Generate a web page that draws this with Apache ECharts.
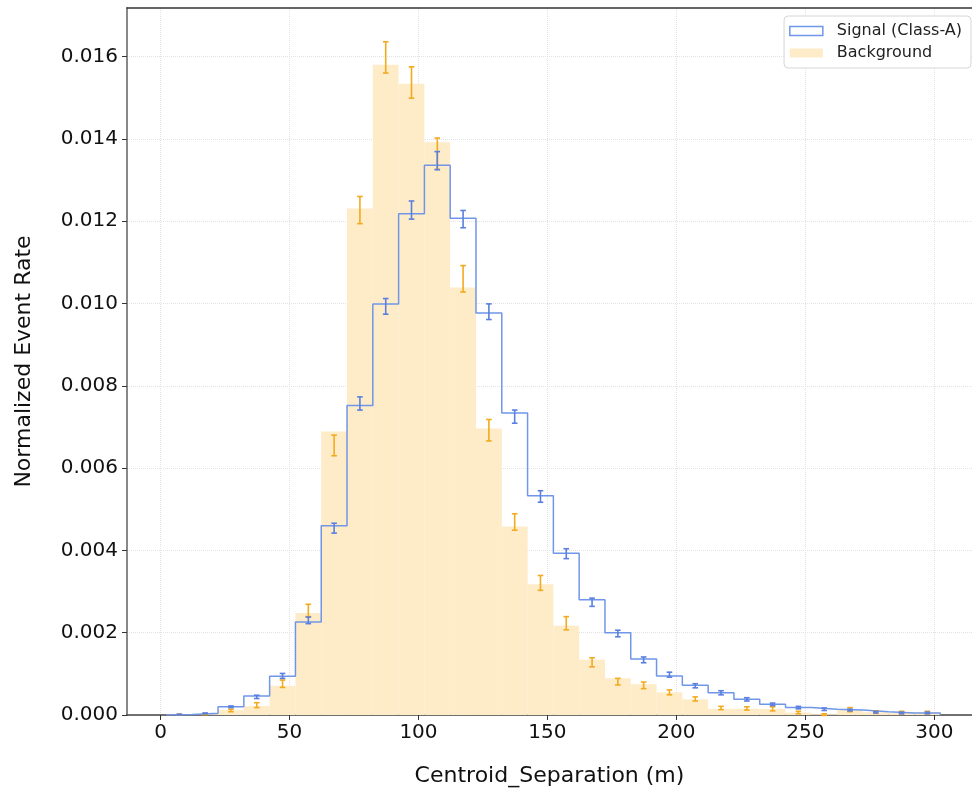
<!DOCTYPE html>
<html>
<head>
<meta charset="utf-8">
<script src="https://cdn.jsdelivr.net/npm/echarts@6/dist/echarts.min.js"></script>
<style>
  html, body { margin: 0; padding: 0; background: #fff; }
  #main { width: 972px; height: 792px; }
</style>
</head>
<body>
<div id="main"></div>
<script>
// bin edges (m)
const binEdges = [2.3, 12.3, 22.3, 32.3, 42.3, 52.3, 62.3, 72.3, 82.3, 92.3, 102.3,
  112.3, 122.3, 132.3, 142.3, 152.3, 162.3, 172.3, 182.3, 192.3, 202.3,
  212.3, 222.3, 232.3, 242.3, 252.3, 262.3, 272.3, 282.3, 292.3, 302.3];

// signal histogram (step) and its error bars
const signalRate = [0.00001, 0.00004, 0.00020, 0.00046, 0.00094, 0.00226, 0.00460, 0.00752, 0.00999, 0.01218,
  0.01336, 0.01207, 0.00977, 0.00734, 0.00533, 0.00393, 0.00280, 0.00200, 0.00136, 0.00095,
  0.00072, 0.00054, 0.00038, 0.00026, 0.00018, 0.00014, 0.00012, 0.00008, 0.00005, 0.00005];
const signalErrMid = [0.00001, 0.00004, 0.00020, 0.00044, 0.00095, 0.00230, 0.00454, 0.00757, 0.00993, 0.01227,
  0.01347, 0.01205, 0.00980, 0.00725, 0.00531, 0.00392, 0.00274, 0.00198, 0.00134, 0.00098,
  0.00071, 0.00054, 0.00038, 0.00026, 0.00018, 0.00014, 0.00012, 0.00007, 0.00005, 0.00005];
const signalErr = [0.00001, 0.00001, 0.00002, 0.00004, 0.00006, 0.00008, 0.00012, 0.00016, 0.00019, 0.00022,
  0.00022, 0.00021, 0.00019, 0.00016, 0.00014, 0.00012, 0.00010, 0.00008, 0.00007, 0.00006,
  0.00005, 0.00005, 0.00004, 0.00003, 0.00003, 0.00003, 0.00002, 0.00002, 0.00002, 0.00002];

// background histogram (filled) and its error bars
const backgroundRate = [0.00001, 0.00002, 0.00012, 0.00022, 0.00071, 0.00248, 0.00689, 0.01231, 0.01580, 0.01534,
  0.01392, 0.01039, 0.00696, 0.00458, 0.00318, 0.00217, 0.00134, 0.00089, 0.00075, 0.00055,
  0.00038, 0.00015, 0.00015, 0.00015, 0.00006, 0.00002, 0.00012, 0.00007, 0.00006, 0.00006];
const backgroundErrMid = [0.00001, 0.00002, 0.00011, 0.00024, 0.00076, 0.00254, 0.00655, 0.01227, 0.01598, 0.01537,
  0.01364, 0.01060, 0.00692, 0.00469, 0.00321, 0.00223, 0.00128, 0.00081, 0.00072, 0.00055,
  0.00039, 0.00017, 0.00016, 0.00015, 0.00006, 0.00001, 0.00013, 0.00007, 0.00006, 0.00006];
const backgroundErr = [0.00001, 0.00001, 0.00003, 0.00006, 0.00009, 0.00015, 0.00025, 0.00033, 0.00038, 0.00038,
  0.00038, 0.00032, 0.00026, 0.00020, 0.00018, 0.00016, 0.00011, 0.00008, 0.00008, 0.00006,
  0.00005, 0.00004, 0.00004, 0.00005, 0.00003, 0.00002, 0.00005, 0.00003, 0.00003, 0.00003];

const xTicks = [0, 50, 100, 150, 200, 250, 300];
const yTicks = [0, 0.002, 0.004, 0.006, 0.008, 0.010, 0.012, 0.014, 0.016];

const FONT = "DejaVu Sans";
const BLUE = "#6f96e8";
const BLUE_ERR = "#5a7fdf";
const ORANGE_ERR = "#f2ab1f";
const BG_FILL = "#feebc8";

const myChart = echarts.init(document.getElementById("main"));

// data for the series
const barData = backgroundRate.map((v, i) => [binEdges[i], binEdges[i + 1], v]);
const stepData = [[binEdges[0], 0]];
signalRate.forEach((v, i) => {
  stepData.push([binEdges[i], v]);
  stepData.push([binEdges[i + 1], v]);
});
stepData.push([binEdges[binEdges.length - 1], 0]);

const centre = (i) => (binEdges[i] + binEdges[i + 1]) / 2;
const sigErrData = signalErrMid.map((m, i) => [centre(i), m - signalErr[i], m + signalErr[i]]);
const bgErrData = backgroundErrMid.map((m, i) => [centre(i), m - backgroundErr[i], m + backgroundErr[i]]);

function renderBar(params, api) {
  const a = api.coord([api.value(0), api.value(2)]);
  const b = api.coord([api.value(1), 0]);
  return {
    type: "rect",
    shape: { x: a[0], y: a[1], width: b[0] - a[0], height: b[1] - a[1] },
    style: { fill: BG_FILL },
  };
}

function errRenderer(color) {
  return function (params, api) {
    const top = api.coord([api.value(0), api.value(2)]);
    const bot = api.coord([api.value(0), api.value(1)]);
    const cap = 2.8;
    const style = { stroke: color, lineWidth: 1.6 };
    return {
      type: "group",
      children: [
        { type: "line", shape: { x1: top[0], y1: top[1], x2: bot[0], y2: bot[1] }, style: style },
        { type: "line", shape: { x1: top[0] - cap, y1: top[1], x2: top[0] + cap, y2: top[1] }, style: style },
        { type: "line", shape: { x1: bot[0] - cap, y1: bot[1], x2: bot[0] + cap, y2: bot[1] }, style: style },
      ],
    };
  };
}

const option = {
  animation: false,
  textStyle: { fontFamily: FONT },
  grid: { left: 127, right: 0, top: 8, bottom: 74 },
  legend: {
    orient: "vertical",
    right: 1,
    top: 16,
    padding: [7, 9, 7, 5],
    itemGap: 6,
    itemWidth: 33,
    itemHeight: 9,
    backgroundColor: "#fff",
    borderColor: "#d6d6d6",
    borderWidth: 1,
    borderRadius: 4,
    selectedMode: false,
    textStyle: { fontFamily: FONT, fontSize: 16, color: "#222", padding: [0, 0, 0, 9] },
    data: [
      { name: "Signal (Class-A)", icon: "rect", itemStyle: { color: "#fff", borderColor: BLUE, borderWidth: 1.5 } },
      { name: "Background", icon: "rect", itemStyle: { color: BG_FILL } },
    ],
  },
  xAxis: [
    {
      type: "value",
      min: -13.0,
      max: 314.6,
      name: "Centroid_Separation (m)",
      nameLocation: "middle",
      nameGap: 50,
      nameTextStyle: { fontFamily: FONT, fontSize: 22, color: "#111" },
      axisLine: { show: true, onZero: false, lineStyle: { color: "#444", width: 1.5 } },
      axisTick: { show: true, length: 5, customValues: xTicks, lineStyle: { color: "#333" } },
      axisLabel: { customValues: xTicks, margin: 8, fontFamily: FONT, fontSize: 20, color: "#111" },
      splitLine: { show: true, lineStyle: { color: "#e2e2e2", type: "dotted", width: 1 } },
    },
    {
      type: "value",
      position: "top",
      min: -13.0,
      max: 314.6,
      axisLine: { show: true, onZero: false, lineStyle: { color: "#333", width: 1.5 } },
      axisTick: { show: false },
      axisLabel: { show: false },
      splitLine: { show: false },
    },
  ],
  yAxis: {
    type: "value",
    min: 0,
    max: 0.01718,
    name: "Normalized Event Rate",
    nameLocation: "middle",
    nameGap: 92,
    nameTextStyle: { fontFamily: FONT, fontSize: 22, color: "#111" },
    axisLine: { show: true, onZero: false, lineStyle: { color: "#888", width: 2 } },
    axisTick: { show: true, length: 5, customValues: yTicks, lineStyle: { color: "#333" } },
    axisLabel: {
      customValues: yTicks,
      margin: 9,
      fontFamily: FONT,
      fontSize: 20,
      color: "#111",
      formatter: (v) => v.toFixed(3),
    },
    splitLine: { show: true, lineStyle: { color: "#e2e2e2", type: "dotted", width: 1 } },
  },
  series: [
    {
      name: "Background",
      type: "custom",
      renderItem: renderBar,
      data: barData,
      encode: { x: [0, 1], y: 2 },
      itemStyle: { color: BG_FILL },
      z: 1,
    },
    {
      name: "Signal (Class-A)",
      type: "line",
      data: stepData,
      showSymbol: false,
      symbol: "none",
      lineStyle: { color: BLUE, width: 1.5 },
      itemStyle: { color: BLUE },
      z: 2,
    },
    {
      name: "bgErr",
      type: "custom",
      renderItem: errRenderer(ORANGE_ERR),
      data: bgErrData,
      encode: { x: 0, y: [1, 2] },
      z: 3,
    },
    {
      name: "sigErr",
      type: "custom",
      renderItem: errRenderer(BLUE_ERR),
      data: sigErrData,
      encode: { x: 0, y: [1, 2] },
      z: 4,
    },
  ],
};

myChart.setOption(option);
</script>
</body>
</html>
